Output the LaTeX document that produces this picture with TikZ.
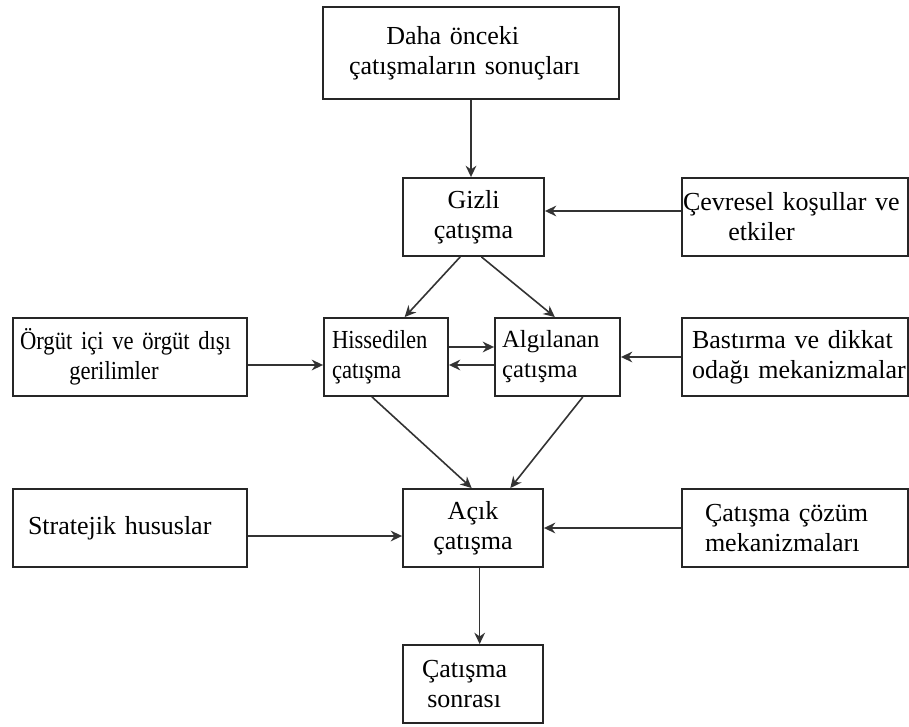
\documentclass[tikz,border=0pt]{standalone}
\usepackage{fontspec}
\setmainfont{Liberation Serif}
\newfontfamily\narrowserif{Liberation Serif}[FakeStretch=0.87]
\usetikzlibrary{arrows.meta}

\begin{document}
\begin{tikzpicture}[x=0.75pt,y=-0.75pt,
  box/.style={draw=black!85,line width=1.4pt,minimum height=58.5pt,inner sep=0pt,
    font=\fontsize{19.5}{22.5}\selectfont},
  narrow/.style={font=\narrowserif\fontsize{19.5}{22.5}\selectfont},
  >={Stealth[length=8.5pt,width=8pt]}]
\useasboundingbox (0,0) rectangle (909,727);

\node[box,minimum width=222pt,minimum height=69pt,text width=183pt,align=left] (1) at (471,53)
  {\hspace*{28pt}Daha önceki\\\mbox{çatışmaların sonuçları}};
\node[box,minimum width=105.75pt,align=center] (2) at (473.5,217) {Gizli\\çatışma};
\node[box,minimum width=169.5pt,text width=168pt,align=left] (3) at (795,217)
  {\mbox{Çevresel koşullar ve}\\\hspace*{34pt}etkiler};
\node[box,narrow,minimum width=175.5pt,text width=165pt,align=left] (4) at (130,357)
  {\mbox{Örgüt içi ve örgüt dışı}\\\hspace*{37pt}gerilimler};
\node[box,narrow,minimum width=93pt,text width=81pt,align=left] (5) at (386,357)
  {Hissedilen\\çatışma};
\node[box,minimum width=93.75pt,text width=83pt,align=left,
  font=\fontsize{18.5}{22.5}\selectfont] (6) at (557.5,357) {Algılanan\\çatışma};
\node[box,minimum width=169.5pt,text width=154.5pt,align=left] (7) at (795,357)
  {\mbox{Bastırma ve dikkat}\\\mbox{odağı mekanizmalar}};
\node[box,minimum width=175.5pt,text width=153pt,align=left] (8) at (130,528) {Stratejik hususlar};
\node[box,minimum width=105pt,align=center] (9) at (473,528) {Açık\\çatışma};
\node[box,minimum width=169.5pt,text width=135pt,align=left] (10) at (795,528)
  {\mbox{Çatışma çözüm}\\mekanizmaları};
\node[box,minimum width=105pt,text width=76.5pt,align=left] (11) at (473,684)
  {Çatışma\\\hspace*{4pt}sonrası};

\begin{scope}[draw=black!80,line width=1.2pt]
\draw[->] (1.south) -- (1.south |- 2.north);
\draw[->] ([yshift=4.5pt]3.west) -- ([yshift=4.5pt]2.east);
\draw[->] ([xshift=-10pt]2.south) -- ([xshift=14pt]5.north);
\draw[->] ([xshift=6pt]2.south) -- ([xshift=-2pt]6.north);
\draw[->] ([yshift=-6pt]4.east) -- ([yshift=-6pt]5.west);
\draw[->] ([yshift=7.5pt]5.east) -- ([yshift=7.5pt]6.west);
\draw[->] ([yshift=-6pt]6.west) -- ([yshift=-6pt]5.east);
\draw[->] (7.west) -- (6.east);
\draw[->] ([xshift=-10.5pt]5.south) -- ([xshift=-1pt]9.north);
\draw[->] ([xshift=19pt]6.south) -- ([xshift=28pt]9.north);
\draw[->] ([yshift=-6pt]8.east) -- ([yshift=-6pt]9.west);
\draw[->] (10.west) -- (9.east);
\draw[->] ([xshift=5pt]9.south) -- ([xshift=5pt]11.north);
\end{scope}

\end{tikzpicture}
\end{document}
